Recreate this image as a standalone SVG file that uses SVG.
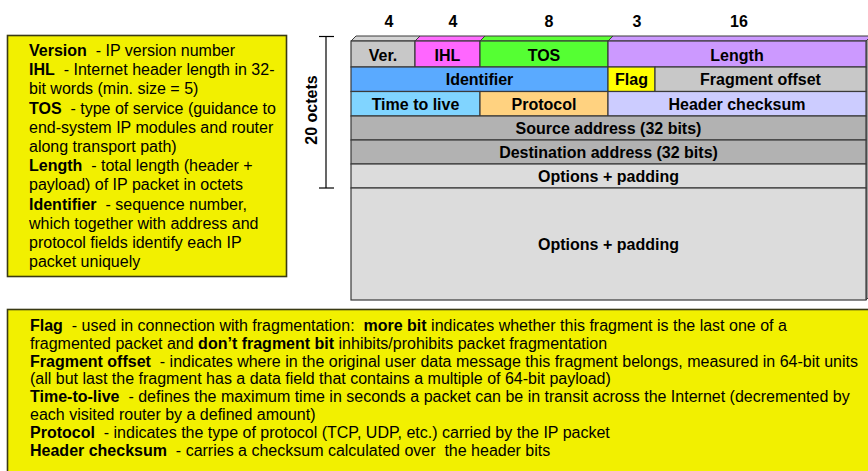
<svg xmlns="http://www.w3.org/2000/svg" width="868" height="471" viewBox="0 0 868 471">
<style>
text{font-family:"Liberation Sans",Arial,sans-serif;fill:#000}
.t{font-size:16px;font-weight:bold;text-anchor:middle}
.d{font-size:16px}
.b{font-weight:bold}
.box{fill:#f2f000;stroke:#3a3a14;stroke-width:1.6}
.c{stroke:#3a3a3a;stroke-width:1.2}
.top{stroke:#3a3a3a;stroke-width:1}
.ln{stroke:#000;stroke-width:1.2;fill:none}
</style>
<rect width="868" height="471" fill="#fff"/>

<g id="field-sizes">
<text class="t" x="389" y="27">4</text>
<text class="t" x="453" y="27">4</text>
<text class="t" x="549" y="27">8</text>
<text class="t" x="637" y="27">3</text>
<text class="t" x="739" y="27">16</text>
</g>

<g id="legend-top">
<rect class="box" x="7.5" y="35.5" width="279" height="241"/>
<text class="d" x="29" y="56" xml:space="preserve"><tspan class="b">Version</tspan>  - IP version number</text>
<text class="d" x="29" y="75.2" xml:space="preserve"><tspan class="b">IHL</tspan>  - Internet header length in 32-</text>
<text class="d" x="29" y="94.4">bit words (min. size = 5)</text>
<text class="d" x="29" y="113.6" xml:space="preserve"><tspan class="b">TOS</tspan>  - type of service (guidance to</text>
<text class="d" x="29" y="132.8">end-system IP modules and router</text>
<text class="d" x="29" y="152">along transport path)</text>
<text class="d" x="29" y="171.2" xml:space="preserve"><tspan class="b">Length</tspan>  - total length (header +</text>
<text class="d" x="29" y="190.4">payload) of IP packet in octets</text>
<text class="d" x="29" y="209.6" xml:space="preserve"><tspan class="b">Identifier</tspan>  - sequence number,</text>
<text class="d" x="29" y="228.8">which together with address and</text>
<text class="d" x="29" y="248">protocol fields identify each IP</text>
<text class="d" x="29" y="267.2">packet uniquely</text>
</g>

<g id="connectors">
<line class="ln" x1="326" y1="36.5" x2="326" y2="188"/>
<line class="ln" x1="319" y1="36.5" x2="334" y2="36.5"/>
<line class="ln" x1="319" y1="188" x2="334" y2="188"/>
</g>
<g id="octets-label">
<text class="t" transform="translate(317,110) rotate(-90)">20 octets</text>
</g>

<g id="header">
<polygon class="top" points="351,41 356,36 420,36 415,41" fill="#d4d4d4"/>
<polygon class="top" points="415,41 420,36 485,36 480,41" fill="#ff6cff"/>
<polygon class="top" points="480,41 485,36 613,36 608,41" fill="#5cff36"/>
<polygon class="top" points="608,41 613,36 871,36 866,41" fill="#cc99ff"/>
<polygon class="top" points="866,41 871,36 871,295 866,300" fill="#9a9a9a"/>
</g>
<g id="ver"><rect class="c" x="351" y="41" width="64" height="26" fill="#c8c8c8"/><text class="t" x="383" y="61">Ver.</text></g>
<g id="ihl"><rect class="c" x="415" y="41" width="65" height="26" fill="#ff66ff"/><text class="t" x="447.5" y="61">IHL</text></g>
<g id="tos"><rect class="c" x="480" y="41" width="128" height="26" fill="#55ff33"/><text class="t" x="544" y="61">TOS</text></g>
<g id="length"><rect class="c" x="608" y="41" width="258" height="26" fill="#cc99ff"/><text class="t" x="737" y="61">Length</text></g>
<g id="identifier"><rect class="c" x="351" y="67" width="257" height="24.5" fill="#5aaaff"/><text class="t" x="479.5" y="85">Identifier</text></g>
<g id="flag"><rect class="c" x="608" y="67" width="47" height="24.5" fill="#ffff00"/><text class="t" x="631.5" y="85">Flag</text></g>
<g id="fragment-offset"><rect class="c" x="655" y="67" width="211" height="24.5" fill="#c8c8c8"/><text class="t" x="760.5" y="85">Fragment offset</text></g>
<g id="ttl"><rect class="c" x="351" y="91.5" width="129" height="24.5" fill="#80d4ff"/><text class="t" x="415.5" y="109.5">Time to live</text></g>
<g id="protocol"><rect class="c" x="480" y="91.5" width="128" height="24.5" fill="#ffd280"/><text class="t" x="544" y="109.5">Protocol</text></g>
<g id="header-checksum"><rect class="c" x="608" y="91.5" width="258" height="24.5" fill="#ccccff"/><text class="t" x="737" y="109.5">Header checksum</text></g>
<g id="source"><rect class="c" x="351" y="116" width="515" height="24" fill="#b2b2b2"/><text class="t" x="608.5" y="133.5">Source address (32 bits)</text></g>
<g id="destination"><rect class="c" x="351" y="140" width="515" height="24" fill="#b2b2b2"/><text class="t" x="608.5" y="157.5">Destination address (32 bits)</text></g>
<g id="options"><rect class="c" x="351" y="164" width="515" height="24" fill="#dcdcdc"/><text class="t" x="608.5" y="181.5">Options + padding</text></g>
<g id="options-big"><rect class="c" x="351" y="188" width="515" height="112" fill="#dcdcdc"/><text class="t" x="608.5" y="249.5">Options + padding</text></g>

<g id="legend-bottom">
<rect class="box" x="7.5" y="309.5" width="866" height="170"/>
<text class="d" x="30" y="331" xml:space="preserve"><tspan class="b">Flag</tspan>  - used in connection with fragmentation:  <tspan class="b">more bit</tspan> indicates whether this fragment is the last one of a</text>
<text class="d" x="30" y="348.8" xml:space="preserve">fragmented packet and <tspan class="b">don’t fragment bit</tspan> inhibits/prohibits packet fragmentation</text>
<text class="d" x="30" y="366.6" xml:space="preserve"><tspan class="b">Fragment offset</tspan>  - indicates where in the original user data message this fragment belongs, measured in 64-bit units</text>
<text class="d" x="30" y="384.4">(all but last the fragment has a data field that contains a multiple of 64-bit payload)</text>
<text class="d" x="30" y="402.2" xml:space="preserve"><tspan class="b">Time-to-live</tspan>  - defines the maximum time in seconds a packet can be in transit across the Internet (decremented by</text>
<text class="d" x="30" y="420">each visited router by a defined amount)</text>
<text class="d" x="30" y="437.8" xml:space="preserve"><tspan class="b">Protocol</tspan>  - indicates the type of protocol (TCP, UDP, etc.) carried by the IP packet</text>
<text class="d" x="30" y="455.6" xml:space="preserve"><tspan class="b">Header checksum</tspan>  - carries a checksum calculated over  the header bits</text>
</g>
</svg>
